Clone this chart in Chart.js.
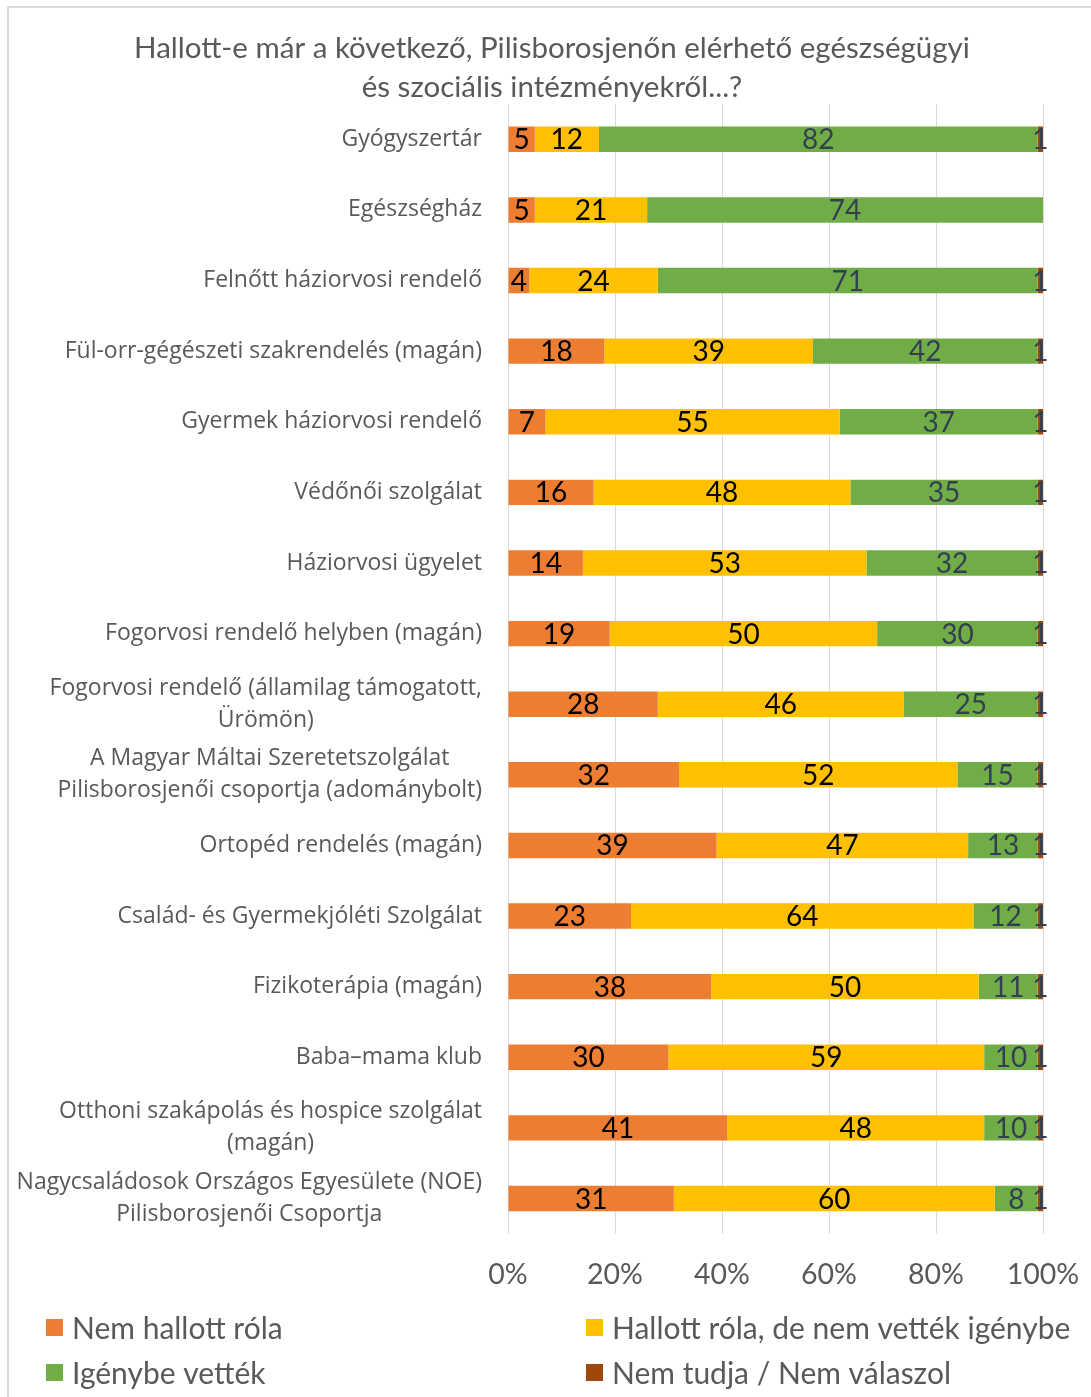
<!DOCTYPE html>
<html>
<head>
<meta charset="utf-8">
<script src="https://cdn.jsdelivr.net/npm/chart.js@4/dist/chart.umd.min.js"></script>
<style>
  html, body { margin: 0; padding: 0; background: #fff; }
  canvas { display: block; }
</style>
</head>
<body>
<canvas id="chart" width="1091" height="1397"></canvas>
<script>
const titleLines = [
  'Hallott-e már a következő, Pilisborosjenőn elérhető egészségügyi',
  'és szociális intézményekről...?'
];

const categories = [
  'Gyógyszertár',
  'Egészségház',
  'Felnőtt háziorvosi rendelő',
  'Fül-orr-gégészeti szakrendelés (magán)',
  'Gyermek háziorvosi rendelő',
  'Védőnői szolgálat',
  'Háziorvosi ügyelet',
  'Fogorvosi rendelő helyben (magán)',
  ['Fogorvosi rendelő (államilag támogatott,', 'Ürömön)'],
  ['A Magyar Máltai Szeretetszolgálat', 'Pilisborosjenői csoportja (adománybolt)'],
  'Ortopéd rendelés (magán)',
  'Család- és Gyermekjóléti Szolgálat',
  'Fizikoterápia (magán)',
  'Baba–mama klub',
  ['Otthoni szakápolás és hospice szolgálat', '(magán)'],
  ['Nagycsaládosok Országos Egyesülete (NOE)', 'Pilisborosjenői Csoportja']
];

const seriesNames = [
  'Nem hallott róla',
  'Hallott róla, de nem vették igénybe',
  'Igénybe vették',
  'Nem tudja / Nem válaszol'
];

const nemHallott = [5, 5, 4, 18, 7, 16, 14, 19, 28, 32, 39, 23, 38, 30, 41, 31];
const halottNemVettek = [12, 21, 24, 39, 55, 48, 53, 50, 46, 52, 47, 64, 50, 59, 48, 60];
const igenybeVettek = [82, 74, 71, 42, 37, 35, 32, 30, 25, 15, 13, 12, 11, 10, 10, 8];
const nemTudja = [1, 0, 1, 1, 1, 1, 1, 1, 1, 1, 1, 1, 1, 1, 1, 1];

const xTicks = [0, 20, 40, 60, 80, 100];

const colors = ['#ED7D31', '#FFC000', '#70AD47', '#9E480E'];
const labelColors = ['#000000', '#000000', '#333F50', '#333F50'];
const textGrey = '#595959';
const catFont = '23px "Open Sans", "Noto Sans", sans-serif';

// frame, white background and the two-line title
const framePlugin = {
  id: 'frame',
  beforeDraw(chart) {
    const { ctx, width, height } = chart;
    ctx.save();
    ctx.fillStyle = '#fff';
    ctx.fillRect(0, 0, width, height);
    ctx.strokeStyle = '#D9D9D9';
    ctx.lineWidth = 2;
    ctx.beginPath();
    ctx.moveTo(width, 7);
    ctx.lineTo(8, 7);
    ctx.lineTo(8, height);
    ctx.stroke();

    ctx.font = '29.5px Lato';
    ctx.fillStyle = textGrey;
    ctx.textAlign = 'center';
    ctx.textBaseline = 'middle';
    titleLines.forEach((t, i) => ctx.fillText(t, 552, 48 + i * 39));
    ctx.restore();
  }
};

// category labels, multi-line blocks centred on their widest line
const catLabelPlugin = {
  id: 'catLabels',
  afterDraw(chart) {
    const { ctx, chartArea } = chart;
    const yScale = chart.scales.y;
    const right = chartArea.left - 26;
    const lineH = 32;
    ctx.save();
    ctx.font = catFont;
    ctx.fillStyle = textGrey;
    ctx.textAlign = 'center';
    ctx.textBaseline = 'middle';
    categories.forEach((c, i) => {
      const lines = Array.isArray(c) ? c : [c];
      const maxW = Math.max(...lines.map(l => ctx.measureText(l).width));
      const cx = right - maxW / 2;
      const y0 = yScale.getPixelForValue(i) - (lines.length - 1) * lineH / 2;
      lines.forEach((l, k) => ctx.fillText(l, cx, y0 + k * lineH));
    });
    ctx.restore();
  }
};

// value labels in the middle of each segment
const valueLabelPlugin = {
  id: 'valueLabels',
  afterDatasetsDraw(chart) {
    const { ctx } = chart;
    ctx.save();
    ctx.font = '28px Lato';
    ctx.textAlign = 'center';
    ctx.textBaseline = 'middle';
    chart.data.datasets.forEach((ds, di) => {
      const meta = chart.getDatasetMeta(di);
      ctx.fillStyle = labelColors[di];
      meta.data.forEach((bar, i) => {
        const v = ds.data[i];
        if (!v) return;
        ctx.fillText(String(v), (bar.x + bar.base) / 2, bar.y + 1);
      });
    });
    ctx.restore();
  }
};

// legend in two columns at the bottom
const legendPlugin = {
  id: 'bottomLegend',
  afterDraw(chart) {
    const { ctx } = chart;
    const cols = [46, 586];
    const rows = [1328, 1373];
    ctx.save();
    ctx.font = '30px Lato';
    ctx.textBaseline = 'middle';
    ctx.textAlign = 'left';
    seriesNames.forEach((name, i) => {
      const x = cols[i % 2];
      const y = rows[Math.floor(i / 2)];
      ctx.fillStyle = colors[i];
      ctx.fillRect(x, y - 9, 17, 17);
      ctx.fillStyle = textGrey;
      ctx.fillText(name, x + 26, y + 1);
    });
    ctx.restore();
  }
};

const seriesData = [nemHallott, halottNemVettek, igenybeVettek, nemTudja];

function draw() {
  new Chart(document.getElementById('chart'), {
    type: 'bar',
    data: {
      labels: categories,
      datasets: seriesData.map((d, i) => ({
        label: seriesNames[i],
        data: d,
        backgroundColor: colors[i],
        borderWidth: 0,
        barPercentage: 0.36,
        categoryPercentage: 1
      }))
    },
    options: {
      indexAxis: 'y',
      responsive: false,
      animation: false,
      devicePixelRatio: 1,
      layout: { padding: { left: 10, right: 48, top: 104, bottom: 81 } },
      plugins: {
        legend: { display: false },
        tooltip: { enabled: false },
        title: { display: false }
      },
      scales: {
        x: {
          stacked: true,
          min: 0,
          max: 100,
          afterBuildTicks(scale) {
            scale.ticks = xTicks.map(v => ({ value: v }));
          },
          afterFit(scale) {
            scale.paddingLeft = 0;
            scale.paddingRight = 0;
          },
          ticks: {
            callback: v => v + '%',
            color: textGrey,
            font: { family: 'Lato', size: 28.5 },
            padding: 24,
            maxRotation: 0
          },
          grid: { color: '#D9D9D9', lineWidth: 1, drawTicks: false },
          border: { display: false }
        },
        y: {
          stacked: true,
          ticks: { display: false },
          grid: { display: false },
          border: { display: false },
          afterFit(scale) { scale.width = 498; }
        }
      }
    },
    plugins: [framePlugin, catLabelPlugin, valueLabelPlugin, legendPlugin]
  });
}

Promise.all([
  document.fonts.load(catFont),
  document.fonts.load('28px Lato')
]).then(draw, draw);
</script>
</body>
</html>
